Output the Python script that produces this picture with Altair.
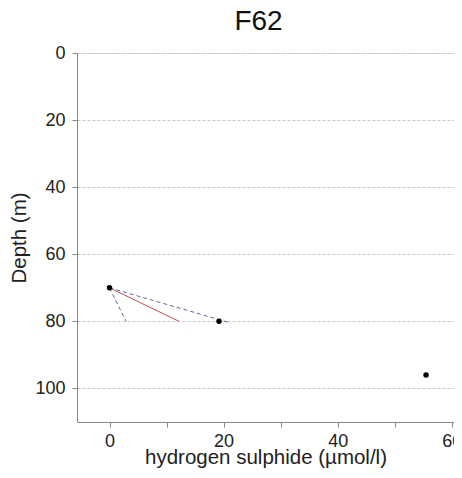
import altair as alt
import pandas as pd

# Observations
obs_h2s = [0.0, 19.2, 55.5]
obs_depth = [70, 80, 96]

# Fitted line and its dashed bounds (start/end points)
line_series = ["fit", "fit", "upper", "upper", "lower", "lower"]
line_h2s = [0.0, 12.2, 0.0, 21.3, 0.0, 2.9]
line_depth = [70, 80, 70, 80.5, 70, 80]

x_ticks = [0, 10, 20, 30, 40, 50, 60]
y_ticks = [0, 20, 40, 60, 80, 100]

pts = pd.DataFrame({"h2s": obs_h2s, "depth": obs_depth})
lines = pd.DataFrame({"series": line_series, "h2s": line_h2s, "depth": line_depth})

FONT = "Liberation Sans"

xscale = alt.Scale(domain=[-5.7, 60.4], nice=False, zero=False)
yscale = alt.Scale(domain=[0, 110], reverse=True, nice=False, zero=False)

xaxis = alt.Axis(
    title="hydrogen sulphide (µmol/l)", values=x_ticks,
    labelExpr="datum.value % 20 == 0 ? datum.label : ''",
    grid=False, domainColor="#888888", tickColor="#888888", tickSize=5,
    labelFont=FONT, labelFontSize=18, labelColor="#222222", labelPadding=5,
    titleFont=FONT, titleFontSize=20.5, titleFontWeight="normal",
    titleColor="#222222", titlePadding=-3, labelFlush=False, labelOverlap=False,
)
yaxis = alt.Axis(
    title="Depth (m)", values=y_ticks,
    grid=True, gridColor="#c8c8c8", gridDash=[3, 2], gridWidth=1,
    domainColor="#888888", tickColor="#888888", tickSize=5,
    labelFont=FONT, labelFontSize=18, labelColor="#222222", labelPadding=7,
    titleFont=FONT, titleFontSize=20.5, titleFontWeight="normal",
    titleColor="#222222", titlePadding=5,
)

base_x = alt.X("h2s:Q", scale=xscale, axis=xaxis)
base_y = alt.Y("depth:Q", scale=yscale, axis=yaxis)

fit = alt.Chart(lines).transform_filter(alt.datum.series == "fit").mark_line(
    color="#c0504d", strokeWidth=1
).encode(x=base_x, y=base_y)

bounds = alt.Chart(lines).transform_filter(alt.datum.series != "fit").mark_line(
    color="#5a6a9a", strokeWidth=1, strokeDash=[4, 3]
).encode(x="h2s:Q", y="depth:Q", detail="series:N")

points = alt.Chart(pts).mark_circle(color="black", opacity=1, size=30).encode(
    x="h2s:Q", y="depth:Q"
)

chart = (fit + bounds + points).properties(
    width=377, height=369,
    title=alt.TitleParams("F62", font=FONT, fontSize=28, fontWeight="normal",
                          color="#111111", anchor="middle", dx=-7, offset=8),
    autosize=alt.AutoSizeParams(type="none"),
    padding={"left": 69, "top": 45, "right": 0, "bottom": 56},
).configure_view(stroke=None).configure(background="white")

chart.save("out.html", embed_options={"renderer": "svg", "actions": False})
